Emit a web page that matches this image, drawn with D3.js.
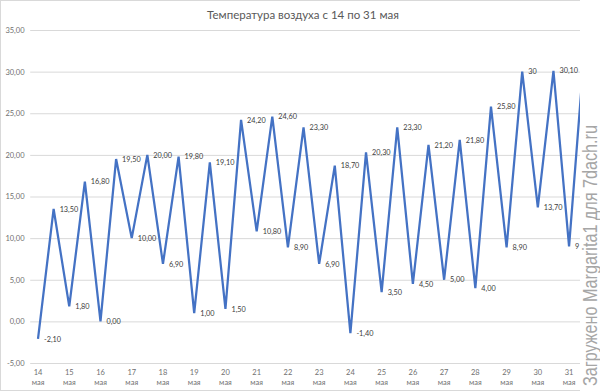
<!DOCTYPE html>
<html>
<head>
<meta charset="utf-8">
<script src="https://cdn.jsdelivr.net/npm/d3@7"></script>
<style>
  body { margin: 0; background: #fff; }
  svg { display: block; font-family: Lato, "Liberation Sans", sans-serif; }
</style>
</head>
<body>
<svg id="chart" width="600" height="392"></svg>
<script>
// categories: each day has a night low and a day high
var days = ["14", "15", "16", "17", "18", "19", "20", "21", "22",
            "23", "24", "25", "26", "27", "28", "29", "30", "31"];
var temps = [-2.1, 13.5, 1.8, 16.8, 0.0, 19.5, 10.0, 20.0, 6.9, 19.8,
             1.0, 19.1, 1.5, 24.2, 10.8, 24.6, 8.9, 23.3, 6.9, 18.7,
             -1.4, 20.3, 3.5, 23.3, 4.5, 21.2, 5.0, 21.8, 4.0, 25.8,
             8.9, 30.0, 13.7, 30.1, 9.0, 33.0];
// points typed in as integers show without decimals
var plainFormat = [31, 34];
var yTicks = [-5, 0, 5, 10, 15, 20, 25, 30, 35];
var title = "Температура воздуха с 14 по 31 мая";
var watermark = "Загружено Margarita1 для 7dach.ru";

var svg = d3.select("#chart");
var W = 600, H = 392;
var plotLeft = 30.2, plotRight = 592.5, plotTop = 30, plotBottom = 363;

var x = d3.scaleBand().domain(d3.range(temps.length)).range([plotLeft, plotRight]);
var y = d3.scaleLinear().domain([-5, 35]).range([plotBottom, plotTop]);

var fmt2 = function (d) {
    return d3.format(".2f")(d).replace(".", ",").replace("\u2212", "-");
};
var labelText = function (d, i) {
    if (plainFormat.indexOf(i) >= 0) return String(d);
    return fmt2(d);
};

// chart border
svg.append("rect")
    .attr("x", 0.5).attr("y", 0.5)
    .attr("width", W - 1).attr("height", H - 2)
    .attr("fill", "#fff").attr("stroke", "#d9d9d9");

// title
svg.append("text")
    .attr("x", 303).attr("y", 18.5)
    .attr("text-anchor", "middle")
    .attr("font-size", 11.5)
    .attr("fill", "#595959")
    .text(title);

// gridlines
svg.append("g")
    .attr("transform", "translate(" + plotLeft + ",0)")
    .call(d3.axisLeft(y).tickValues(yTicks).tickSize(-(plotRight - plotLeft)).tickFormat(""))
    .call(function (g) { g.select(".domain").remove(); })
    .selectAll("line").attr("stroke", "#d9d9d9");

// y labels
svg.append("g")
    .attr("transform", "translate(24.5,0)")
    .call(d3.axisLeft(y).tickValues(yTicks).tickSize(0).tickFormat(fmt2))
    .call(function (g) { g.select(".domain").remove(); })
    .selectAll("text")
    .attr("x", 0)
    .attr("font-size", 7.5)
    .attr("font-family", "Lato, sans-serif")
    .attr("fill", "#6f6f6f");

// x labels: one per day, on the night point
var xAxis = svg.append("g")
    .attr("transform", "translate(0," + plotBottom + ")")
    .call(d3.axisBottom(x)
        .tickValues(d3.range(0, temps.length, 2))
        .tickSize(0)
        .tickFormat(""));
xAxis.select(".domain").remove();
xAxis.selectAll(".tick").each(function (d) {
    var t = d3.select(this).append("text")
        .attr("fill", "#6f6f6f")
        .attr("font-size", 7.5)
        .attr("font-family", "Lato, sans-serif")
        .attr("text-anchor", "middle");
    t.append("tspan").attr("x", 0).attr("y", 11.5).text(days[d / 2]);
    t.append("tspan").attr("x", 0).attr("y", 21.5).text("мая");
});

// line
var line = d3.line()
    .x(function (d, i) { return x(i) + x.bandwidth() / 2; })
    .y(function (d) { return y(d); });

svg.append("path")
    .datum(temps)
    .attr("d", line)
    .attr("fill", "none")
    .attr("stroke", "#4472c4")
    .attr("stroke-width", 2.25)
    .attr("stroke-linejoin", "miter");

// data labels, to the right of each point
svg.append("g").selectAll("text")
    .data(temps)
    .enter().append("text")
    .attr("x", function (d, i) { return x(i) + x.bandwidth() / 2 + 6; })
    .attr("y", function (d) { return y(d) + 2.7; })
    .attr("font-size", 7.3)
    .attr("fill", "#404040")
    .text(labelText);

// watermark strip on the right edge
svg.append("rect")
    .attr("x", 580).attr("y", 0)
    .attr("width", 20).attr("height", H)
    .attr("fill", "#fff");
svg.append("text")
    .attr("transform", "translate(597,386) rotate(-90)")
    .attr("font-family", "'Liberation Sans', Arial, sans-serif")
    .attr("font-size", 20)
    .attr("textLength", 261)
    .attr("lengthAdjust", "spacingAndGlyphs")
    .attr("fill", "#a6a6a6")
    .text(watermark);
</script>
</body>
</html>
